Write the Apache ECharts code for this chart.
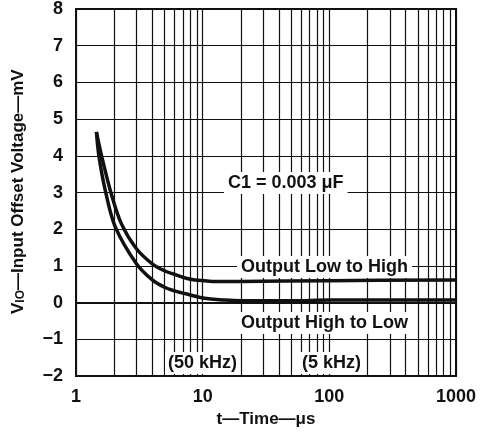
<!DOCTYPE html>
<html>
<head>
<meta charset="utf-8">
<script src="https://cdn.jsdelivr.net/npm/echarts@6/dist/echarts.min.js"></script>
<style>
html,body{margin:0;padding:0;background:#fff;}
#chart{width:482px;height:433px;}
</style>
</head>
<body>
<div id="chart"></div>
<script>
// time (us) / offset voltage (mV)
var lowToHighT = [1.45, 1.6, 1.89, 2.29, 3, 4, 5, 6, 7, 8, 10, 12, 20, 100, 1000];
var lowToHighV = [4.65, 3.97, 2.99, 2.14, 1.47, 1.06, 0.87, 0.77, 0.69, 0.64, 0.6, 0.58, 0.58, 0.6, 0.62];
var highToLowT = [1.45, 1.52, 1.72, 2.05, 3, 4, 5, 6, 7, 8, 10, 15, 20, 50, 100, 1000];
var highToLowV = [4.65, 3.97, 2.99, 2.05, 1.06, 0.62, 0.42, 0.32, 0.26, 0.21, 0.13, 0.07, 0.05, 0.05, 0.07, 0.07];
var decades = [1, 10, 100];

function pairs(xs, ys) {
	var out = [];
	for (var i = 0; i < xs.length; i++) {
		out.push([xs[i], ys[i]]);
	}
	return out;
}

// minor log grid lines 2..9 in every decade
var minorLines = [];
for (var d = 0; d < decades.length; d++) {
	for (var k = 2; k <= 9; k++) {
		minorLines.push({xAxis: decades[d] * k});
	}
}

var font = '"Liberation Sans", Arial, sans-serif';
var myChart = echarts.init(document.getElementById('chart'));

var option = {
	backgroundColor: '#fff',
	animation: false,
	grid: {
		left: 76, right: 26, top: 8, bottom: 52,
		show: true, borderColor: '#111', borderWidth: 2
	},
	xAxis: {
		type: 'log',
		logBase: 10,
		min: 1,
		max: 1000,
		name: 't\u2014Time\u2014\u03bcs',
		nameLocation: 'middle',
		nameGap: 32,
		nameTextStyle: {fontFamily: font, fontWeight: 'bold', fontSize: 17, color: '#111'},
		axisLine: {lineStyle: {color: '#111', width: 2}},
		axisTick: {show: false},
		axisLabel: {
			fontFamily: font, fontWeight: 'bold', fontSize: 18, color: '#111', margin: 12,
			formatter: function(v) { return '' + Math.round(v); }
		},
		splitLine: {show: true, lineStyle: {color: '#111', width: 1.2}}
	},
	yAxis: {
		type: 'value',
		min: -2,
		max: 8,
		interval: 1,
		axisLine: {lineStyle: {color: '#111', width: 2}},
		axisTick: {show: false},
		axisLabel: {
			fontFamily: font, fontWeight: 'bold', fontSize: 18, color: '#111', margin: 13,
			formatter: function(v) { return v < 0 ? '\u2212' + (-v) : '' + v; }
		},
		splitLine: {show: true, lineStyle: {color: '#111', width: 1.2}}
	},
	graphic: [
		{
			type: 'text', x: 9, y: 314, rotation: Math.PI / 2,
			style: {
				text: 'V{s|IO}\u2014Input Offset Voltage\u2014mV',
				fontFamily: font, fontWeight: 'bold', fontSize: 17, fill: '#111',
				rich: {s: {fontFamily: font, fontWeight: 'bold', fontSize: 12, fill: '#111', verticalAlign: 'bottom', padding: [6, 0, 0, 0]}}
			}
		},
		{
			type: 'text', left: 224, top: 172, z: 10,
			style: {text: 'C1 = 0.003 \u03bcF', fontFamily: font, fontWeight: 'bold', fontSize: 18, fill: '#111', backgroundColor: '#fff', padding: [2, 4]}
		},
		{
			type: 'text', left: 237, top: 256, z: 10,
			style: {text: 'Output Low to High', fontFamily: font, fontWeight: 'bold', fontSize: 18, fill: '#111', backgroundColor: '#fff', padding: [2, 4]}
		},
		{
			type: 'text', left: 237, top: 312, z: 10,
			style: {text: 'Output High to Low', fontFamily: font, fontWeight: 'bold', fontSize: 18, fill: '#111', backgroundColor: '#fff', padding: [2, 4]}
		},
		{
			type: 'text', left: 165, top: 352, z: 10,
			style: {text: '(50 kHz)', fontFamily: font, fontWeight: 'bold', fontSize: 18, fill: '#111', backgroundColor: '#fff', padding: [2, 3]}
		},
		{
			type: 'text', left: 299, top: 352, z: 10,
			style: {text: '(5 kHz)', fontFamily: font, fontWeight: 'bold', fontSize: 18, fill: '#111', backgroundColor: '#fff', padding: [2, 3]}
		}
	],
	series: [
		{
			name: 'Output Low to High',
			type: 'line',
			data: pairs(lowToHighT, lowToHighV),
			smooth: 0.35,
			showSymbol: false,
			lineStyle: {color: '#111', width: 3.5},
			z: 5,
			markLine: {
				silent: true,
				symbol: ['none', 'none'],
				label: {show: false},
				lineStyle: {color: '#111', width: 1.2, type: 'solid'},
				data: minorLines
			}
		},
		{
			name: 'Output High to Low',
			type: 'line',
			data: pairs(highToLowT, highToLowV),
			smooth: 0.35,
			showSymbol: false,
			lineStyle: {color: '#111', width: 3.5},
			z: 5
		}
	]
};
myChart.setOption(option);
</script>
</body>
</html>
